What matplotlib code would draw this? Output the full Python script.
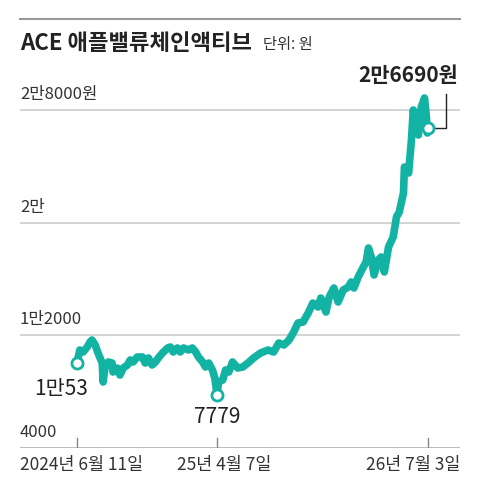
import numpy as np
import matplotlib.pyplot as plt
from matplotlib.lines import Line2D

plt.rcParams['font.family'] = ['Liberation Sans Narrow', 'Noto Sans CJK KR', 'DejaVu Sans']

# days since 2024-06-11 and closing price (won)
days = [0, 6, 13, 22, 28, 32, 39, 45, 54, 56, 60, 67, 75, 77, 86, 92, 99, 108,
        114, 120, 129, 140, 146, 153, 161, 168, 174, 183, 194, 200, 206, 215,
        221, 228, 239, 247, 254, 260, 269, 275, 282, 290, 295, 300, 303, 312,
        318, 325, 333, 344, 355, 366, 378, 393, 409, 421, 432, 443, 454, 464,
        473, 484, 495, 505, 516, 522, 533, 540, 550, 559, 570, 581, 587, 593,
        602, 613, 619, 624, 630, 636, 645, 651, 658, 667, 677, 684, 690, 699,
        701, 710, 716, 720, 727, 731, 737, 744, 748, 750, 752]
price = [10053, 10956, 10814, 11169, 11524, 11666, 11311, 10743, 10033, 8685,
         9749, 10104, 10033, 9394, 9678, 9182, 9678, 9891, 10246, 10104, 10459,
         10459, 10033, 10388, 9891, 10104, 10388, 10743, 11098, 11169, 10814,
         11098, 10814, 11098, 10956, 11098, 10814, 10459, 10104, 9749, 10033,
         9536, 8969, 7779, 8685, 8827, 9536, 9394, 10104, 9678, 9749, 10033,
         10388, 10743, 10956, 10814, 11453, 11311, 11666, 12234, 12873, 12943,
         13582, 14292, 14008, 14647, 13653, 14718, 15357, 14363, 15215, 15428,
         15783, 15357, 16138, 16847, 17202, 18196, 17557, 16280, 17344, 17557,
         16492, 18267, 18977, 20396, 20751, 22100, 23945, 23520, 25862, 27992,
         26572, 26217, 28204, 28843, 27494, 26359, 26690]

grid_vals = [12000, 20000, 28000]
ytick_labels = {4000: '4000', 12000: '1만2000', 20000: '2만', 28000: '2만8000원'}
xtick_days = [0, 300, 752]
xtick_labels = ['2024년 6월 11일', '25년 4월 7일', '26년 7월 3일']

teal = '#13b3a4'

fig = plt.figure(figsize=(4.8, 5), dpi=100)
ax = fig.add_axes([20 / 480, 52 / 500, 440 / 480, 388 / 500])
ax.set_xlim(-122, 820)
ax.set_ylim(4000, 31540)
ax.axis('off')

for v in grid_vals:
    ax.axhline(v, color='#cccccc', lw=1.2, zorder=1)
ax.axhline(4000, color='#b0b0b0', lw=1.2, zorder=1)

# y labels sit above gridlines at left edge
for v, lab in ytick_labels.items():
    ax.text(-122, v + 500, lab, fontsize=12, color='#333333', ha='left', va='bottom')

ax.plot(days, price, color=teal, lw=5.5, solid_joinstyle='round',
        solid_capstyle='round', zorder=3)

# start / min / end markers
for i in [0, price.index(min(price)), len(price) - 1]:
    ax.plot(days[i], price[i], 'o', ms=8, mfc='white', mec=teal, mew=2, zorder=4)

ax.text(days[0] + 24, price[0] - 1100, '1만53', fontsize=15, color='#222222',
        ha='right', va='top')
imin = price.index(min(price))
ax.text(days[imin], price[imin] - 800, f'{min(price)}', fontsize=15,
        color='#222222', ha='center', va='top')

# end label with leader line
x_lead = days[-1] + 38
ax.plot([days[-1] + 8, x_lead, x_lead], [price[-1], price[-1], 29100],
        color='#222222', lw=1, zorder=2)
ax.text(x_lead + 25, 29700, '2만6690원', fontsize=15, fontweight='bold',
        color='#222222', ha='right', va='bottom')

# x ticks
for d, lab in zip(xtick_days, xtick_labels):
    ax.plot([d, d], [4000, 4700], color='#888888', lw=1, zorder=2)
ha = ['left', 'center', 'right']
xpos = [-122, 316, 820]
for x, lab, h in zip(xpos, xtick_labels, ha):
    ax.text(x, 2800, lab, fontsize=12.5, color='#333333', ha=h, va='center')

# title and top rule
fig.add_artist(Line2D([20 / 480, 460 / 480], [1 - 19 / 500, 1 - 19 / 500],
                      color='#999999', lw=1.5))
fig.text(20 / 480, 1 - 44 / 500, 'ACE 애플밸류체인액티브', fontsize=16,
         fontweight='bold', color='#222222', ha='left', va='center')
fig.text(263 / 480, 1 - 45 / 500, '단위: 원', fontsize=11, color='#333333',
         ha='left', va='center')

fig.savefig('out.png', dpi=100)
